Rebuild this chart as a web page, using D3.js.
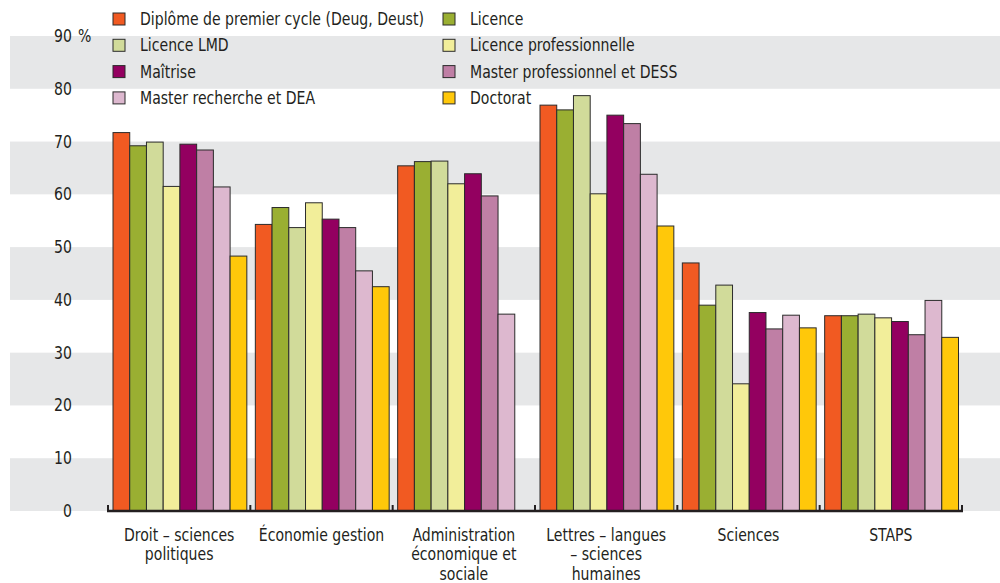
<!DOCTYPE html>
<html>
<head>
<meta charset="utf-8">
<script src="https://cdn.jsdelivr.net/npm/d3@7"></script>
<style>
  html, body { margin: 0; padding: 0; background: #fff; }
  svg { display: block; }
  text { font-family: "DejaVu Sans Condensed", "Liberation Sans Narrow", "Roboto", sans-serif; fill: #231f20; }
</style>
</head>
<body>
<svg id="chart" width="1000" height="583"></svg>
<script>
const categories = [
  ["Droit – sciences", "politiques"],
  ["Économie gestion"],
  ["Administration", "économique et", "sociale"],
  ["Lettres – langues", "– sciences", "humaines"],
  ["Sciences"],
  ["STAPS"]
];
const seriesNames = [
  "Diplôme de premier cycle (Deug, Deust)",
  "Licence",
  "Licence LMD",
  "Licence professionnelle",
  "Maîtrise",
  "Master professionnel et DESS",
  "Master recherche et DEA",
  "Doctorat"
];
const seriesColors = ["#F15A22", "#9AAF32", "#D1DB9A", "#F2EE9A", "#930060", "#BF7FA5", "#DDB8CF", "#FFC80A"];

const diplome    = [71.7, 54.3, 65.4, 76.9, 47.0, 37.0];
const licence    = [69.2, 57.5, 66.2, 76.0, 39.0, 37.0];
const licenceLMD = [69.9, 53.7, 66.3, 78.7, 42.8, 37.3];
const licencePro = [61.5, 58.4, 62.0, 60.1, 24.1, 36.6];
const maitrise   = [69.5, 55.3, 63.9, 75.0, 37.6, 35.9];
const masterPro  = [68.4, 53.7, 59.7, 73.4, 34.5, 33.4];
const masterRech = [61.4, 45.5, 37.3, 63.8, 37.1, 39.9];
const doctorat   = [48.3, 42.5, null, 54.0, 34.7, 32.9];
const seriesValues = [diplome, licence, licenceLMD, licencePro, maitrise, masterPro, masterRech, doctorat];

const yTicks = [0, 10, 20, 30, 40, 50, 60, 70, 80, 90];

const svg = d3.select("#chart");
const FS = 17, SX = 0.92;

function label(parent, x, y, lines, anchor, lh) {
  const t = parent.append("text")
    .attr("transform", `translate(${x},${y}) scale(${SX},1)`)
    .attr("font-size", FS).attr("text-anchor", anchor || "start");
  lines.forEach((ln, j) => t.append("tspan").attr("x", 0).attr("dy", j === 0 ? "0.35em" : lh).text(ln));
  return t;
}

const y = d3.scaleLinear().domain([0, 90]).range([511, 36]);
const x0 = d3.scaleBand().domain(d3.range(categories.length)).range([108, 962]).padding(0);
const x1 = d3.scaleBand().domain(d3.range(seriesNames.length)).range([5, x0.bandwidth() - 3.5]).padding(0);

// alternating grey bands
const bands = [];
for (let i = 0; i < yTicks.length - 1; i += 2) bands.push([yTicks[i], yTicks[i + 1]]);
svg.append("g").selectAll("rect").data(bands).join("rect")
  .attr("x", 10).attr("width", 990)
  .attr("y", d => y(d[1])).attr("height", d => y(d[0]) - y(d[1]))
  .attr("fill", "#E6E7E8");

// y labels
const yl = svg.append("g");
yTicks.forEach(v => label(yl, 72, y(v), [String(v)], "end"));
label(yl, 78, y(90), ["%"], "start");

// bars
const groups = svg.append("g").selectAll("g").data(categories).join("g")
  .attr("transform", (d, i) => `translate(${x0(i)},0)`);
groups.selectAll("rect")
  .data((d, i) => seriesValues.map((vals, s) => ({ s, v: vals[i] })).filter(e => e.v != null))
  .join("rect")
  .attr("x", d => x1(d.s)).attr("width", x1.bandwidth())
  .attr("y", d => y(d.v)).attr("height", d => y(0) - y(d.v))
  .attr("fill", d => seriesColors[d.s])
  .attr("stroke", "#2b2b2b").attr("stroke-width", 1);

// x axis
const ax = svg.append("g");
ax.append("line").attr("x1", 107).attr("x2", 963).attr("y1", 511).attr("y2", 511)
  .attr("stroke", "#231f20").attr("stroke-width", 2.5);
const bounds = d3.range(categories.length + 1).map(i => i < categories.length ? x0(i) : x0.range()[1]);
ax.selectAll("line.t").data(bounds).join("line").attr("class", "t")
  .attr("x1", d => d).attr("x2", d => d).attr("y1", 505).attr("y2", 511)
  .attr("stroke", "#231f20").attr("stroke-width", 2);

// x labels
const xl = svg.append("g");
categories.forEach((lines, i) => label(xl, x0(i) + x0.bandwidth() / 2, 535, lines, "middle", 19.5));

// legend
const lg = svg.append("g");
seriesNames.forEach((name, i) => {
  const col = i % 2, row = Math.floor(i / 2);
  const lx = col === 0 ? 113 : 443;
  const ly = 19 + row * 26.3;
  lg.append("rect").attr("x", lx).attr("y", ly - 6).attr("width", 12).attr("height", 12)
    .attr("fill", seriesColors[i]).attr("stroke", "#2b2b2b").attr("stroke-width", 1);
  label(lg, lx + 27, ly, [name], "start");
});
</script>
</body>
</html>
